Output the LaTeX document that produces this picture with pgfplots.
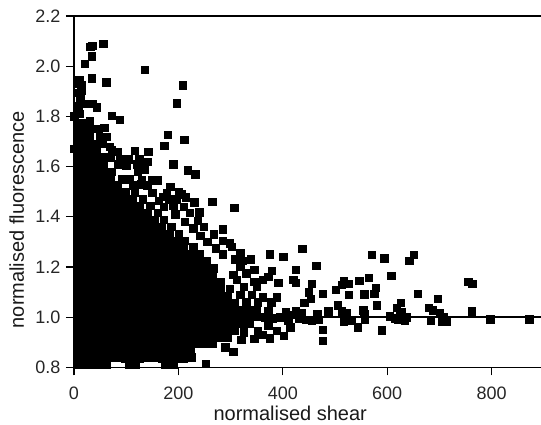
\documentclass[border=0pt]{standalone}
\usepackage{pgfplots}
\pgfplotsset{compat=1.18}
\usepackage{fontspec}
\setmainfont{Liberation Sans}
\begin{document}
\begin{tikzpicture}[x=1pt,y=1pt]
\useasboundingbox (0,0) rectangle (541,425);
\begin{axis}[
  at={(74pt,57.7pt)},anchor=origin,
  scale only axis,width=467pt,height=351.3pt,
  xmin=0,xmax=894.6,ymin=0.8,ymax=2.2,
  axis x line=bottom,axis y line=left,
  axis line style={-,line width=1.5pt,black},
  clip=false,
  xtick={0,200,400,600,800},
  ytick={0.8,1.0,1.2,1.4,1.6,1.8,2.0,2.2},
  tick align=outside,
  major tick length=8pt,
  tick style={line width=1.2pt,black},
  /pgf/number format/assume math mode=true,
  /pgf/number format/fixed,
  yticklabel style={/pgf/number format/fixed zerofill,/pgf/number format/precision=1,font=\fontsize{18}{20}\selectfont,color=black!85,xshift=-2pt},
  xticklabel style={font=\fontsize{18}{20}\selectfont,color=black!85,yshift=-8pt},
  xlabel={normalised shear},
  ylabel={normalised fluorescence},
  label style={font=\fontsize{20}{22}\selectfont,color=black!90},
  xlabel style={at={(axis description cs:0.463,0)},anchor=base,yshift=-53pt},
  ylabel style={at={(axis description cs:0,0.42)},anchor=base,yshift=50pt},
]
\addplot[black,line width=1.5pt,forget plot] coordinates {(0,2.2)(894.6,2.2)};
\addplot[black,line width=1.5pt,forget plot] coordinates {(0,1.0)(894.6,1.0)};
\addplot[only marks,mark=square*,mark size=3.7pt,mark options={fill=black,draw=none}] coordinates {
(56,2.09)(31,2.078)(35,2.082)(34,2.04)(20,2.01)(135,1.985)(208,1.924)(34,1.952)(62,1.936)(10,1.947)(14,1.925)(6,1.93)
(197,1.853)(72,1.803)(88,1.786)(36,1.85)(43,1.836)(28,1.85)(17,1.85)(0,1.8)(11,1.81)(179,1.726)(211,1.706)(173,1.682)
(116,1.662)(142,1.659)(190,1.609)(218,1.586)(232,1.57)(265,1.461)(307,1.436)(0,1.67)
(125,1.62)(140,1.62)(150,1.545)(160,1.545)(214,1.478)(230,1.458)(171,1.48)(200,1.5)
(437,1.273)(401,1.24)(375,1.25)(570,1.249)(594,1.234)(651,1.249)(642,1.224)(464,1.206)(425,1.19)(608,1.164)(565,1.158)
(546,1.144)(517,1.146)(526,1.133)(513,1.129)(420,1.149)(425,1.137)(455,1.133)(755,1.142)(763,1.133)(578,1.118)(501,1.11)
(575,1.093)(556,1.092)(450,1.10)(476,1.093)(526,1.089)(658,1.093)(697,1.073)(453,1.073)(441,1.057)(626,1.057)(580,1.047)
(505,1.047)(618,1.037)(679,1.037)(687,1.027)(487,1.023)(513,1.023)(522,1.016)(554,1.027)(556,1.013)(762,1.023)(701,1.016)
(466,1.012)(414,.959)(590,.948)(544,.96)(476,.951)(476,.907)(402,.927)(388,.947)(375,.916)(797,.991)(872,.991)(714,.983)
(704,.983)(683,.987)(634,.987)(615,.996)(605,1.003)(628,1.02)(637,1.0)(557,.991)(532,.987)(517,.983)(379,1.186)(391,1.137)
(388,1.08)(378,1.06)(372,1.16)(707,1.0)(620,.99)(625,1.005)(405,1.02)(415,1.01)(425,1.025)(435,1.015)(445,.99)(455,.985)(468,.99)(395,1.0)(410,.985)(430,.995)
(7,.81)(20,.81)(35,.81)(50,.81)(62,.81)(105,.81)(118,.81)(175,.81)(190,.81)(252,.814)
(7,.835)(14,.835)(28,.835)(42,.835)(56,.835)(70,.84)(84,.84)(98,.835)(112,.835)(126,.835)(140,.84)(154,.84)(168,.835)(182,.835)(196,.835)(210,.835)(225,.84)
(7,.865)(14,.865)(28,.865)(42,.865)(56,.865)(70,.865)(84,.865)(98,.865)(112,.865)(126,.865)(140,.865)(154,.865)(168,.865)(182,.865)(196,.865)(210,.865)(224,.865)(305,.861)(290,.88)
(7,.893)(14,.893)(28,.893)(42,.893)(56,.893)(70,.893)(84,.893)(98,.893)(112,.893)(126,.893)(140,.893)(154,.893)(168,.893)(182,.893)(196,.893)(210,.893)(224,.893)(238,.893)(252,.893)(266,.893)
(7,.92)(14,.92)(28,.92)(42,.92)(56,.92)(70,.92)(84,.92)(98,.92)(112,.92)(126,.92)(140,.92)(154,.92)(168,.92)(182,.92)(196,.92)(210,.92)(224,.92)(238,.92)(252,.92)(266,.92)(280,.92)(294,.92)(320,.91)(345,.915)
(7,.948)(14,.948)(28,.948)(42,.948)(56,.948)(70,.948)(84,.948)(98,.948)(112,.948)(126,.948)(140,.948)(154,.948)(168,.948)(182,.948)(196,.948)(210,.948)(224,.948)(238,.948)(252,.948)(266,.948)(280,.948)(294,.948)(308,.948)(325,.94)(352,.945)(362,.93)
(7,.975)(14,.975)(28,.975)(42,.975)(56,.975)(70,.975)(84,.975)(98,.975)(112,.975)(126,.975)(140,.975)(154,.975)(168,.975)(182,.975)(196,.975)(210,.975)(224,.975)(238,.975)(252,.975)(266,.975)(280,.975)(294,.975)(308,.975)(322,.975)(336,.975)(372,.965)
(7,1.003)(14,1.003)(28,1.003)(42,1.003)(56,1.003)(70,1.003)(84,1.003)(98,1.003)(112,1.003)(126,1.003)(140,1.003)(154,1.003)(168,1.003)(182,1.003)(196,1.003)(210,1.003)(224,1.003)(238,1.003)(252,1.003)(266,1.003)(280,1.003)(294,1.003)(308,1.003)(322,1.003)(336,1.003)(350,1.003)(366,1.0)(380,.995)
(7,1.03)(14,1.03)(28,1.03)(42,1.03)(56,1.03)(70,1.03)(84,1.03)(98,1.03)(112,1.03)(126,1.03)(140,1.03)(154,1.03)(168,1.03)(182,1.03)(196,1.03)(210,1.03)(224,1.03)(238,1.03)(252,1.03)(266,1.03)(280,1.03)(294,1.03)(308,1.03)(322,1.03)(336,1.03)(350,1.03)(372,1.025)
(7,1.058)(14,1.058)(28,1.058)(42,1.058)(56,1.058)(70,1.058)(84,1.058)(98,1.058)(112,1.058)(126,1.058)(140,1.058)(154,1.058)(168,1.058)(182,1.058)(196,1.058)(210,1.058)(224,1.058)(238,1.058)(252,1.058)(266,1.058)(280,1.058)(294,1.058)(308,1.058)(330,1.06)(352,1.06)
(7,1.085)(14,1.085)(28,1.085)(42,1.085)(56,1.085)(70,1.085)(84,1.085)(98,1.085)(112,1.085)(126,1.085)(140,1.085)(154,1.085)(168,1.085)(182,1.085)(196,1.085)(210,1.085)(224,1.085)(238,1.085)(252,1.085)(266,1.085)(280,1.085)(294,1.085)(318,1.09)(340,1.09)(362,1.08)
(7,1.113)(14,1.113)(28,1.113)(42,1.113)(56,1.113)(70,1.113)(84,1.113)(98,1.113)(112,1.113)(126,1.113)(140,1.113)(154,1.113)(168,1.113)(182,1.113)(196,1.113)(210,1.113)(224,1.113)(238,1.113)(252,1.113)(266,1.113)(280,1.113)(298,1.113)(325,1.12)(350,1.12)
(7,1.14)(14,1.14)(28,1.14)(42,1.14)(56,1.14)(70,1.14)(84,1.14)(98,1.14)(112,1.14)(126,1.14)(140,1.14)(154,1.14)(168,1.14)(182,1.14)(196,1.14)(210,1.14)(224,1.14)(238,1.14)(252,1.14)(266,1.14)(280,1.14)(312,1.15)(345,1.14)(362,1.15)
(7,1.168)(14,1.168)(28,1.168)(42,1.168)(56,1.168)(70,1.168)(84,1.168)(98,1.168)(112,1.168)(126,1.168)(140,1.168)(154,1.168)(168,1.168)(182,1.168)(196,1.168)(210,1.168)(224,1.168)(238,1.168)(252,1.168)(266,1.168)(305,1.17)(330,1.175)
(7,1.195)(14,1.195)(28,1.195)(42,1.195)(56,1.195)(70,1.195)(84,1.195)(98,1.195)(112,1.195)(126,1.195)(140,1.195)(154,1.195)(168,1.195)(182,1.195)(196,1.195)(210,1.195)(224,1.195)(238,1.195)(252,1.195)(268,1.195)(318,1.2)(345,1.19)
(7,1.223)(14,1.223)(28,1.223)(42,1.223)(56,1.223)(70,1.223)(84,1.223)(98,1.223)(112,1.223)(126,1.223)(140,1.223)(154,1.223)(168,1.223)(182,1.223)(196,1.223)(210,1.223)(224,1.223)(238,1.223)(254,1.223)(308,1.23)(322,1.225)(338,1.23)
(7,1.25)(14,1.25)(28,1.25)(42,1.25)(56,1.25)(70,1.25)(84,1.25)(98,1.25)(112,1.25)(126,1.25)(140,1.25)(154,1.25)(168,1.25)(182,1.25)(196,1.25)(210,1.25)(224,1.25)(240,1.25)(285,1.25)(318,1.255)
(7,1.278)(14,1.278)(28,1.278)(42,1.278)(56,1.278)(70,1.278)(84,1.278)(98,1.278)(112,1.278)(126,1.278)(140,1.278)(154,1.278)(168,1.278)(182,1.278)(196,1.278)(210,1.278)(228,1.278)(272,1.275)(302,1.28)
(7,1.305)(14,1.305)(28,1.305)(42,1.305)(56,1.305)(70,1.305)(84,1.305)(98,1.305)(112,1.305)(126,1.305)(140,1.305)(154,1.305)(168,1.305)(182,1.305)(196,1.305)(212,1.305)(255,1.3)(285,1.305)(298,1.295)
(7,1.333)(14,1.333)(28,1.333)(42,1.333)(56,1.333)(70,1.333)(84,1.333)(98,1.333)(112,1.333)(126,1.333)(140,1.333)(154,1.333)(168,1.333)(182,1.333)(200,1.333)(242,1.325)(268,1.33)
(7,1.36)(14,1.36)(28,1.36)(42,1.36)(56,1.36)(70,1.36)(84,1.36)(98,1.36)(112,1.36)(126,1.36)(140,1.36)(154,1.36)(168,1.36)(186,1.36)(228,1.355)(248,1.36)(285,1.35)
(7,1.388)(14,1.388)(28,1.388)(42,1.388)(56,1.388)(70,1.388)(84,1.388)(98,1.388)(112,1.388)(126,1.388)(140,1.388)(154,1.388)(172,1.388)(212,1.38)(237,1.385)
(7,1.415)(14,1.415)(28,1.415)(42,1.415)(56,1.415)(70,1.415)(84,1.415)(98,1.415)(112,1.415)(126,1.415)(140,1.415)(160,1.415)(194,1.41)(222,1.415)(240,1.418)
(7,1.443)(14,1.443)(28,1.443)(42,1.443)(56,1.443)(70,1.443)(84,1.443)(98,1.443)(112,1.443)(126,1.443)(146,1.443)(172,1.44)(190,1.445)(210,1.44)
(7,1.47)(14,1.47)(28,1.47)(42,1.47)(56,1.47)(70,1.47)(84,1.47)(98,1.47)(112,1.47)(132,1.47)(162,1.465)(182,1.47)(196,1.47)
(7,1.498)(14,1.498)(28,1.498)(42,1.498)(56,1.498)(70,1.498)(84,1.498)(98,1.498)(116,1.498)(150,1.495)(178,1.495)(205,1.49)
(7,1.525)(14,1.525)(28,1.525)(42,1.525)(56,1.525)(70,1.525)(84,1.525)(112,1.525)(128,1.53)(140,1.525)(184,1.52)
(7,1.553)(14,1.553)(28,1.553)(42,1.553)(56,1.553)(70,1.553)(92,1.55)(106,1.55)(130,1.545)
(7,1.58)(14,1.58)(28,1.58)(42,1.58)(56,1.58)(72,1.58)(122,1.58)(136,1.59)
(7,1.608)(14,1.608)(28,1.608)(42,1.608)(56,1.608)(84,1.61)(100,1.605)(120,1.61)
(7,1.635)(14,1.635)(28,1.635)(42,1.635)(58,1.64)(70,1.635)(88,1.63)(104,1.63)(125,1.63)
(7,1.663)(14,1.663)(28,1.663)(44,1.663)(72,1.665)(84,1.66)
(7,1.69)(14,1.69)(28,1.69)(40,1.69)(54,1.69)(68,1.68)
(7,1.718)(16,1.718)(30,1.718)(50,1.72)(62,1.72)
(8,1.745)(20,1.745)(32,1.75)(46,1.75)(58,1.755)
(7,1.775)(15,1.775)(30,1.78)
(8,1.84)(12,1.87)(10,1.895)(7,1.83)(14,1.905)
};
\end{axis}
\end{tikzpicture}
\end{document}
